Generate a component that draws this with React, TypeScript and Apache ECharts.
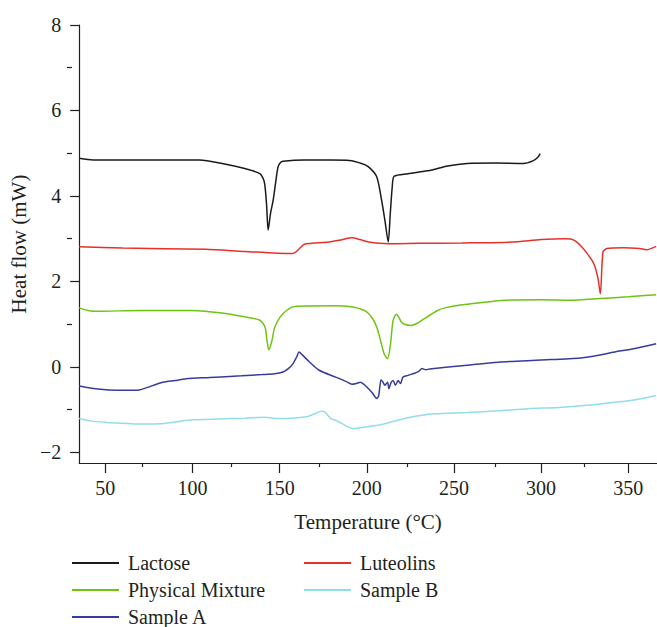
import React, { useEffect, useRef } from "react";
import * as echarts from "echarts";

const seriesNames = ["Lactose", "Luteolins", "Physical Mixture", "Sample B", "Sample A"];
const seriesColors = ["#1a1a1a", "#e8302a", "#6fc414", "#93dcea", "#363c9c"];

const lactose: [number, number][] = [
  [35, 4.88], [43, 4.84], [60, 4.84], [80, 4.84], [104, 4.84], [117, 4.76], [130, 4.64],
  [138.7, 4.52], [141.2, 4.33], [142.5, 3.8], [143.4, 3.2], [144.8, 3.6], [146.3, 3.9],
  [148, 4.4], [149.1, 4.68], [150.5, 4.78], [152, 4.81], [164, 4.84], [180, 4.84],
  [190, 4.83], [197, 4.76], [201, 4.68], [205.7, 4.45], [208.5, 3.9], [210.5, 3.4],
  [212.3, 2.92], [213.5, 3.6], [214.6, 4.21], [215.7, 4.46], [223.6, 4.52], [230, 4.56],
  [236.8, 4.6], [246.3, 4.7], [257.6, 4.76], [273.6, 4.77], [289.7, 4.76], [295.3, 4.82],
  [298, 4.9], [299.5, 4.99],
];

const luteolins: [number, number][] = [
  [35, 2.81], [60, 2.78], [107.6, 2.75], [130, 2.7], [156.7, 2.65], [159, 2.68],
  [161.4, 2.77], [164.2, 2.87], [178.3, 2.92], [185, 2.97], [191.5, 3.02], [196, 2.98],
  [201, 2.92], [212.3, 2.88], [230, 2.89], [254.7, 2.9], [283, 2.92], [300, 2.98],
  [313.2, 3.0], [317, 2.99], [319.8, 2.94], [323, 2.82], [326.5, 2.65], [330.2, 2.42],
  [332.5, 2.1], [334, 1.71], [335.5, 2.69], [337.8, 2.77], [347.2, 2.79], [356.6, 2.77],
  [360.4, 2.74], [366, 2.82],
];

const physicalMixture: [number, number][] = [
  [35, 1.38], [40, 1.32], [45.4, 1.3], [70, 1.32], [100, 1.32], [119, 1.25], [130, 1.17],
  [138.7, 1.09], [141.6, 0.93], [142.8, 0.6], [143.8, 0.4], [145.5, 0.6], [147, 0.9],
  [149.1, 1.09], [152, 1.25], [156.7, 1.39], [160, 1.42], [182.2, 1.43], [192, 1.4],
  [198, 1.33], [201, 1.25], [203.5, 1.12], [205.7, 0.93], [208, 0.6], [210, 0.3],
  [211.9, 0.19], [213.5, 0.5], [215.1, 1.09], [217, 1.23], [218.5, 1.15], [219.8, 1.05],
  [222, 0.99], [225.5, 0.97], [229, 1.02], [233.1, 1.13], [237.8, 1.25], [240.6, 1.32],
  [245, 1.38], [252.9, 1.44], [265, 1.5], [279.3, 1.56], [300, 1.57], [317, 1.56],
  [334, 1.6], [350, 1.64], [366, 1.69],
];

const sampleA: [number, number][] = [
  [35, -0.45], [42, -0.5], [52, -0.54], [62, -0.55], [68, -0.55], [72, -0.51], [83, -0.36],
  [90, -0.32], [96.3, -0.28], [110, -0.25], [128, -0.21], [140, -0.18], [147, -0.16],
  [151.9, -0.12], [155, -0.04], [157.6, 0.07], [160, 0.25], [161.1, 0.35], [163, 0.28],
  [167, 0.12], [172.7, -0.08], [182.2, -0.24], [188, -0.34], [191.5, -0.41], [194, -0.39],
  [196.3, -0.36], [198, -0.4], [200, -0.47], [203, -0.6], [205.7, -0.74], [206.8, -0.68],
  [208.2, -0.3], [209.3, -0.36], [210.4, -0.43], [211.9, -0.36], [212.7, -0.51],
  [213.8, -0.38], [215.1, -0.32], [216.4, -0.43], [218, -0.32], [219.3, -0.39],
  [220.8, -0.24], [223.6, -0.2], [227.4, -0.15], [230, -0.1], [231.6, -0.04], [234, -0.07],
  [236, -0.05], [257.6, 0.04], [275.5, 0.11], [300, 0.16], [322.7, 0.21], [330, 0.25],
  [345, 0.37], [351.6, 0.41], [366, 0.54],
];

const sampleB: [number, number][] = [
  [35, -1.21], [42, -1.27], [51, -1.3], [60, -1.32], [69.9, -1.34], [81.2, -1.33],
  [90, -1.29], [100, -1.24], [115, -1.22], [130, -1.2], [141.6, -1.18], [149.1, -1.21],
  [157, -1.2], [166.1, -1.16], [171, -1.08], [174, -1.04], [176, -1.06], [179.3, -1.21],
  [182, -1.25], [185.9, -1.33], [189, -1.4], [192.5, -1.45], [195, -1.43], [199.1, -1.41],
  [208.5, -1.35], [215, -1.28], [223.6, -1.19], [238.7, -1.1], [257.6, -1.07], [275, -1.03],
  [292.5, -0.98], [310, -0.95], [326.5, -0.9], [340, -0.84], [349.1, -0.8], [358, -0.74],
  [366, -0.67],
];

const seriesData = [lactose, luteolins, physicalMixture, sampleB, sampleA];

const xMajorTicks = [50, 100, 150, 200, 250, 300, 350];
const xMinorTicks = [75, 125, 175, 225, 275, 325];
const yMajorTicks = [-2, 0, 2, 4, 6, 8];
const yMinorTicks = [-1, 1, 3, 5, 7];

const legendLeftColumn = ["Lactose", "Physical Mixture", "Sample A"];
const legendRightColumn = ["Luteolins", "Sample B"];

const FONT = "'Liberation Serif', 'DejaVu Serif', serif";
const INK = "#231f20";

export default function App() {
  const ref = useRef<HTMLDivElement>(null);
  useEffect(() => {
    if (!ref.current) return;
    const chart = echarts.init(ref.current, undefined, { renderer: "svg" });
    const gridRect = { left: 72, top: 25, width: 585, height: 438 };
    const fmt = (v: number) => (v < 0 ? "\u2212" + Math.abs(v) : String(v));
    const legendCommon = {
      orient: "vertical" as const,
      top: 553,
      height: 100,
      padding: 0,
      itemGap: 7,
      itemWidth: 47,
      itemHeight: 2,
      icon: "rect",
      selectedMode: false,
      textStyle: { fontFamily: FONT, fontSize: 20, lineHeight: 20, color: INK, padding: [0, 0, 0, 4] },
    };
    chart.setOption({
      animation: false,
      backgroundColor: "#ffffff",
      textStyle: { fontFamily: FONT },
      grid: [
        { ...gridRect, containLabel: false },
        { ...gridRect, containLabel: false },
      ],
      legend: [
        { ...legendCommon, left: 72, data: legendLeftColumn },
        { ...legendCommon, left: 304, data: legendRightColumn },
      ],
      xAxis: [
        {
          type: "value",
          gridIndex: 0,
          min: 35,
          max: 366.5,
          name: "Temperature (\u00b0C)",
          nameLocation: "middle",
          nameGap: 48,
          nameTextStyle: { fontFamily: FONT, fontSize: 21, color: INK },
          axisLine: { show: true, onZero: false, lineStyle: { color: INK, width: 1.2 } },
          axisTick: { show: true, inside: false, length: 10, customValues: xMajorTicks, lineStyle: { color: INK, width: 1.2 } },
          axisLabel: { customValues: xMajorTicks, margin: 15, fontFamily: FONT, fontSize: 20, color: INK, formatter: fmt },
          splitLine: { show: false },
        },
        {
          type: "value",
          gridIndex: 1,
          min: 35,
          max: 366.5,
          axisLine: { show: false, onZero: false },
          axisTick: { show: true, inside: false, length: 4, customValues: xMinorTicks, lineStyle: { color: INK, width: 1.2 } },
          axisLabel: { show: false },
          splitLine: { show: false },
        },
      ],
      yAxis: [
        {
          type: "value",
          gridIndex: 0,
          min: -2.25,
          max: 8,
          name: "Heat flow (mW)",
          nameLocation: "middle",
          nameGap: 38,
          nameRotate: 90,
          nameTextStyle: { fontFamily: FONT, fontSize: 21, color: INK },
          axisLine: { show: true, onZero: false, lineStyle: { color: INK, width: 1.2 } },
          axisTick: { show: true, inside: false, length: 9, customValues: yMajorTicks, lineStyle: { color: INK, width: 1.2 } },
          axisLabel: { customValues: yMajorTicks, margin: 18, fontFamily: FONT, fontSize: 20, color: INK, formatter: fmt },
          splitLine: { show: false },
        },
        {
          type: "value",
          gridIndex: 1,
          min: -2.25,
          max: 8,
          axisLine: { show: false, onZero: false },
          axisTick: { show: true, inside: false, length: 5, customValues: yMinorTicks, lineStyle: { color: INK, width: 1.2 } },
          axisLabel: { show: false },
          splitLine: { show: false },
        },
      ],
      series: seriesNames.map((name, i) => ({
        name,
        type: "line",
        xAxisIndex: 0,
        yAxisIndex: 0,
        data: seriesData[i],
        showSymbol: false,
        symbol: "none",
        smooth: 0.25,
        clip: true,
        color: seriesColors[i],
        lineStyle: { color: seriesColors[i], width: 1.5 },
        itemStyle: { color: seriesColors[i] },
      })),
    });
    return () => chart.dispose();
  }, []);
  return <div ref={ref} style={{ position: "fixed", left: 0, top: 0, width: 657, height: 627 }} />;
}
